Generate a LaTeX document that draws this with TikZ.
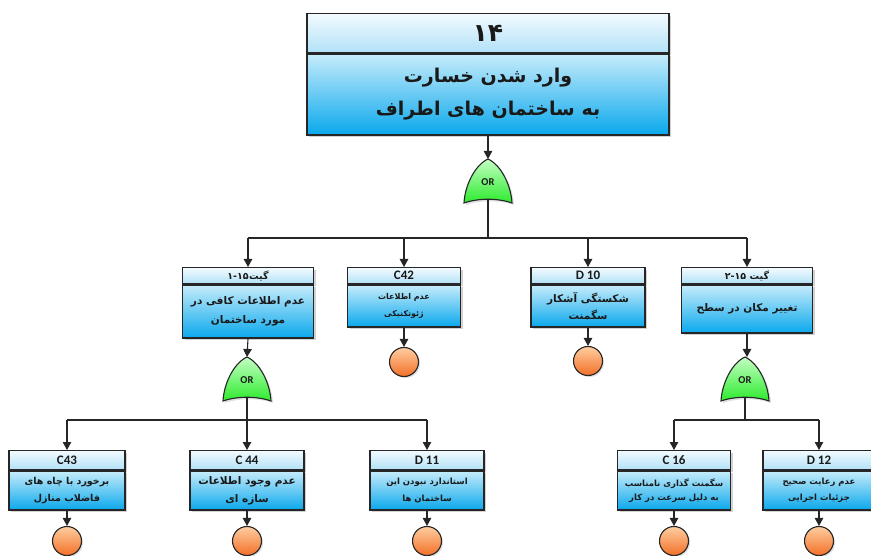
\documentclass[tikz,border=0pt]{standalone}
\usepackage{fontspec}
\setmainfont{Carlito}
\newfontfamily\fa[Script=Arabic]{DejaVu Sans}
\TeXXeTstate=1
\usetikzlibrary{arrows.meta,shadows}

\definecolor{headtop}{RGB}{242,251,255}
\definecolor{headbot}{RGB}{178,225,247}
\definecolor{bodytop}{RGB}{198,236,251}
\definecolor{bodybot}{RGB}{10,168,236}
\definecolor{gatetop}{RGB}{195,255,195}
\definecolor{gatebot}{RGB}{45,235,45}
\definecolor{evtop}{RGB}{255,205,160}
\definecolor{evbot}{RGB}{242,112,40}
\definecolor{ink}{RGB}{25,25,25}

\newcommand\rtl[1]{\beginR#1\endR}

% box with a title band and a text body: [body options]{name}{cx}{top}{width}{head h}{body h}{title}{text}
\newcommand\evbox[9][]{%
  \node[boxhead, minimum width=#5pt, minimum height=#6pt] (#2-h) at (#3,#4) {#8};
  \node[boxbody, minimum width=#5pt, minimum height=#7pt, #1] (#2) at (#2-h.south) {#9};
}
% OR gate: {name}{cx}{top}
\newcommand\orgate[3]{%
  \filldraw[orshape] (#2,#3) .. controls (#2+13,#3+6) and (#2+23,#3+26) .. (#2+24,#3+44)
     .. controls (#2+10,#3+39) and (#2-10,#3+39) .. (#2-24,#3+44)
     .. controls (#2-23,#3+26) and (#2-13,#3+6) .. (#2,#3) -- cycle;
  \coordinate (#1in) at (#2,#3);
  \coordinate (#1out) at (#2,#3+40);
  \node[font=\bfseries\fontsize{10.5}{11}\selectfont, text=ink] (#1) at (#2,#3+23) {OR};
}

\tikzset{
  conn/.style={line width=1.1pt, draw=black!85},
  arr/.style={conn, -{Triangle[length=8pt,width=8.5pt]}},
  boxhead/.style={draw=black!85, line width=1.3pt, top color=headtop, bottom color=headbot,
    inner sep=0pt, anchor=north, text=ink, font=\bfseries\fontsize{13}{14}\selectfont,
    drop shadow={opacity=0.35, shadow xshift=2pt, shadow yshift=-2pt}},
  boxbody/.style={draw=black!85, line width=1.3pt, top color=bodytop, bottom color=bodybot,
    inner sep=0pt, anchor=north, text=ink, align=center,
    drop shadow={opacity=0.35, shadow xshift=2pt, shadow yshift=-2pt}},
  orshape/.style={draw=black!85, line width=1.1pt, top color=gatetop, bottom color=gatebot,
    drop shadow={opacity=0.25, shadow xshift=2pt, shadow yshift=-2pt}},
  basic/.style={circle, draw=black!85, line width=1.1pt, minimum size=29pt, inner sep=0pt,
    top color=evtop, bottom color=evbot,
    drop shadow={opacity=0.25, shadow xshift=1.5pt, shadow yshift=-1.5pt}},
}

\begin{document}
\begin{tikzpicture}[x=1pt,y=-1pt]
\useasboundingbox[fill=white] (0,0) rectangle (871,556);

% top event
\evbox[font=\fa\bfseries\fontsize{19}{33}\selectfont]{top}{488}{13}{362}{39}{81}
  {\fa\fontsize{25}{26}\selectfont ۱۴}
  {\rtl{وارد شدن خسارت}\\\rtl{به ساختمان های اطراف}}
\orgate{or1}{488}{159}
\draw[arr] (top) -- (or1in);

% second level
\evbox[font=\fa\bfseries\fontsize{10.5}{19}\selectfont]{g1}{248}{267}{131}{16}{53}
  {\fa\fontsize{9.5}{10}\selectfont \rtl{گیت\kern0.5pt\beginL۱-۱۵\endL}}
  {\rtl{عدم اطلاعات کافی در}\\\rtl{مورد ساختمان}}
\evbox[font=\fa\bfseries\fontsize{8}{17}\selectfont]{c42}{404}{267}{113}{16}{42}
  {C42}
  {\rtl{عدم اطلاعات}\\\rtl{ژئوتکنیکی}}
\evbox[font=\fa\bfseries\fontsize{10.5}{17}\selectfont]{d10}{588}{267}{114}{16}{42}
  {D 10}
  {\rtl{شکستگی آشکار}\\\rtl{سگمنت}}
\evbox[font=\fa\bfseries\fontsize{10.5}{17}\selectfont]{g2}{747}{267}{131}{16}{48}
  {\fa\fontsize{9.5}{10}\selectfont \rtl{گیت \beginL۲-۱۵\endL}}
  {\rtl{تغییر مکان در سطح}}

\coordinate (bus1) at (488,238);
\draw[conn] (or1out) -- (bus1);
\draw[conn] (g1-h.north |- bus1) -- (g2-h.north |- bus1);
\foreach \n in {g1,c42,d10,g2}
  \draw[arr] (\n-h.north |- bus1) -- (\n-h.north);

\node[basic] (e-c42) at (404,362) {};
\node[basic] (e-d10) at (588,361) {};
\draw[arr] (c42.south) -- (e-c42.north);
\draw[arr] (d10.south) -- (e-d10.north);

% branch under gate 15-1
\orgate{or2}{247}{357}
\draw[arr] (g1.south) -- (or2in);
\evbox[font=\fa\bfseries\fontsize{9.5}{17}\selectfont]{c43}{67}{450}{116}{19}{39}
  {C43}
  {\rtl{برخورد با چاه های}\\\rtl{فاضلاب منازل}}
\evbox[font=\fa\bfseries\fontsize{10.5}{18}\selectfont]{c44}{247}{450}{114}{19}{39}
  {C 44}
  {\rtl{عدم وجود اطلاعات}\\\rtl{سازه ای}}
\evbox[font=\fa\bfseries\fontsize{8.5}{17}\selectfont]{d11}{427}{450}{114}{19}{39}
  {D 11}
  {\rtl{استاندارد نبودن این}\\\rtl{ساختمان ها}}
\coordinate (bus2) at (247,420);
\draw[conn] (or2out) -- (bus2);
\draw[conn] (c43-h.north |- bus2) -- (d11-h.north |- bus2);
\foreach \n in {c43,c44,d11}
  \draw[arr] (\n-h.north |- bus2) -- (\n-h.north);

% branch under gate 15-2
\orgate{or3}{745}{357}
\draw[arr] (g2.south) -- (g2.south |- or3in);
\evbox[font=\fa\bfseries\fontsize{8.5}{14}\selectfont]{c16}{674}{450}{113}{19}{39}
  {C 16}
  {\rtl{سگمنت گذاری نامناسب}\\\rtl{به دلیل سرعت در کار}}
\evbox[font=\fa\bfseries\fontsize{8.5}{16}\selectfont]{d12}{819}{450}{112}{19}{39}
  {D 12}
  {\rtl{عدم رعایت صحیح}\\\rtl{جزئیات اجرایی}}
\coordinate (bus3) at (745,420);
\draw[conn] (or3out) -- (bus3);
\draw[conn] (c16-h.north |- bus3) -- (d12-h.north |- bus3);
\foreach \n in {c16,d12}
  \draw[arr] (\n-h.north |- bus3) -- (\n-h.north);

% basic events
\foreach \n in {c43,c44,d11,c16,d12} {
  \node[basic] (e-\n) at (\n.south |- 0,541) {};
  \draw[arr] (\n.south) -- (e-\n.north);
}
\end{tikzpicture}
\end{document}
